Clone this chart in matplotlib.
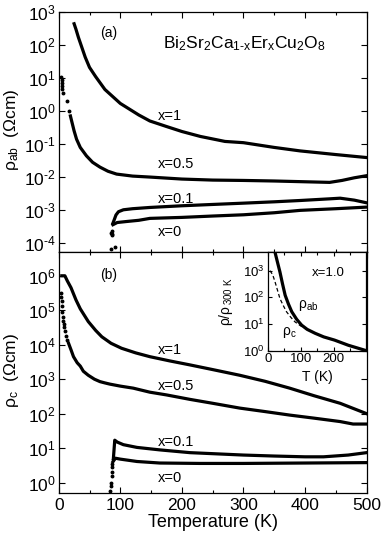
import matplotlib
matplotlib.use('Agg')
import matplotlib.pyplot as plt
from matplotlib.ticker import MultipleLocator, NullLocator, FixedLocator, FuncFormatter
import numpy as np

plt.rcParams['font.family'] = ['Liberation Sans', 'DejaVu Sans']
plt.rcParams['mathtext.fontset'] = 'custom'
plt.rcParams['mathtext.rm'] = 'Liberation Sans'
plt.rcParams['mathtext.it'] = 'Liberation Sans:italic'
plt.rcParams['mathtext.bf'] = 'Liberation Sans:bold'
plt.rcParams['mathtext.sf'] = 'Liberation Sans'

# ---- (a) in-plane resistivity rho_ab (Ohm cm) ----
ab_x1_T = [25, 28, 32, 37, 43, 50, 60, 75, 100, 130, 148, 175, 200, 230, 270, 300, 350, 392, 450, 500]
ab_x1 = [440, 300, 170, 91, 43, 21, 11, 4.5, 1.7, 0.76, 0.50, 0.34, 0.24, 0.17, 0.12, 0.11, 0.079, 0.062, 0.048, 0.039]

ab_x05_dot_T = [4, 5, 5, 6, 6, 7, 13, 17]
ab_x05_dot = [11, 8.9, 7.1, 5.6, 4.5, 3.5, 2.0, 1.0]
ab_x05_T = [19, 21, 25, 29, 35, 45, 55, 67, 80, 94, 120, 148, 200, 250, 300, 350, 400, 440, 460, 480, 500]
ab_x05 = [0.71, 0.5, 0.25, 0.14, 0.079, 0.044, 0.028, 0.020, 0.015, 0.0123, 0.0107, 0.010, 0.0087,
          0.0081, 0.0079, 0.0076, 0.0072, 0.0069, 0.0079, 0.0095, 0.011]

ab_x01_dot_T = [86, 86.5]
ab_x01_dot = [1.9e-4, 2.4e-4]
ab_x01_T = [88, 90, 93, 97, 105, 120, 148, 200, 250, 300, 350, 392, 440, 457, 480, 500]
ab_x01 = [4.0e-4, 5.0e-4, 7.1e-4, 8.9e-4, 1.02e-3, 1.10e-3, 1.20e-3, 1.35e-3, 1.48e-3, 1.62e-3,
          1.78e-3, 1.95e-3, 2.19e-3, 2.29e-3, 2.0e-3, 1.66e-3]

ab_x0_dot_T = [85.5, 87, 85.5, 91.5]
ab_x0_dot = [2.0e-4, 1.8e-4, 6.8e-5, 7.6e-5]
ab_x0_T = [88, 95, 110, 130, 148, 200, 250, 300, 350, 392, 450, 500]
ab_x0 = [3.6e-4, 4.2e-4, 4.5e-4, 4.9e-4, 5.6e-4, 6.0e-4, 6.6e-4, 7.2e-4, 8.3e-4, 9.8e-4, 1.10e-3, 1.23e-3]

# ---- (b) out-of-plane resistivity rho_c (Ohm cm) ----
c_x1_T = [5, 10, 14, 20, 28, 35, 48, 60, 70, 85, 102, 125, 148, 180, 213, 250, 294, 335, 375, 415, 457, 500]
c_x1 = [1.0e6, 1.0e6, 7.1e5, 4.5e5, 2.0e5, 1.1e5, 4.7e4, 2.6e4, 1.7e4, 1.1e4, 7.9e3, 5.8e3, 4.5e3,
        3.4e3, 2.6e3, 1.9e3, 1.3e3, 870, 550, 330, 200, 100]

c_x05_dot_T = [4, 4.5, 5, 5.5, 6, 6.5, 7, 8, 9, 10, 12, 14]
c_x05_dot = [3.2e5, 2.5e5, 1.8e5, 1.3e5, 8.9e4, 6.3e4, 5.0e4, 4.0e4, 3.2e4, 2.5e4, 1.8e4, 1.4e4]
c_x05_T = [16, 20, 24, 30, 35, 40, 48, 58, 67, 75, 83, 100, 121, 148, 175, 213, 250, 294, 335, 375,
           415, 457, 478, 500]
c_x05 = [1.1e4, 7.1e3, 4.5e3, 3.0e3, 2.4e3, 1.7e3, 1.3e3, 1.0e3, 850, 780, 720, 630, 550, 420, 350,
         260, 200, 145, 115, 91, 74, 59, 50, 50]

c_x01_dot_T = [84, 85, 86, 87, 88]
c_x01_dot = [0.56, 1.0, 1.6, 2.8, 5.0]
c_x01_T = [89, 91, 95, 105, 127, 164, 213, 300, 350, 400, 430, 470, 500]
c_x01 = [5.6, 17, 15, 12.6, 10.5, 8.9, 7.4, 6.3, 5.9, 5.6, 5.6, 6.3, 7.4]

c_x0_dot_T = [85, 86, 87]
c_x0_dot = [0.8, 2.0, 3.5]
c_x0_T = [88, 92, 100, 127, 164, 229, 300, 400, 500]
c_x0 = [4.0, 5.1, 4.8, 4.1, 3.7, 3.6, 3.6, 3.7, 3.8]

# ---- inset: x=1.0 normalised rho / rho(300 K) ----
ins_ab_T = [22, 30, 37, 45, 53, 63, 73, 88, 103, 120, 144, 170, 203, 245, 300]
ins_ab = [5000, 2000, 910, 320, 120, 56, 29, 15, 9.1, 6.3, 4.5, 3.3, 2.5, 1.6, 1.0]
ins_c_T = [7, 15, 22, 30, 37, 47, 57, 70, 83, 98, 113, 130, 145]
ins_c = [1000, 710, 390, 180, 91, 50, 29, 18, 12, 8.9, 6.9, 5.5, 4.7]

ab_decades = [1e-4, 1e-3, 1e-2, 1e-1, 1e0, 1e1, 1e2, 1e3]
c_decades = [1e0, 1e1, 1e2, 1e3, 1e4, 1e5, 1e6]
ins_decades = [1e0, 1e1, 1e2, 1e3]


def pow10(v, pos):
    e = int(round(np.log10(v)))
    if e < 0:
        return r'$\mathdefault{10^{\text{-}%d}}$' % (-e)
    return r'$\mathdefault{10^{%d}}$' % e


lw = 2.3
fig = plt.figure(figsize=(3.82, 5.38), dpi=100)
ax1 = fig.add_axes([0.1537, 0.5316, 0.806, 0.4461])
ax2 = fig.add_axes([0.1537, 0.0831, 0.806, 0.4485])


def style(ax, ymin, ymax, decades):
    ax.set_yscale('log')
    ax.set_xlim(0, 500)
    ax.set_ylim(ymin, ymax)
    ax.xaxis.set_major_locator(MultipleLocator(100))
    ax.xaxis.set_minor_locator(MultipleLocator(50))
    ax.yaxis.set_major_locator(FixedLocator(decades))
    ax.yaxis.set_minor_locator(NullLocator())
    ax.yaxis.set_major_formatter(FuncFormatter(pow10))
    ax.tick_params(which='both', direction='in', top=True, right=True, labelsize=12.5)
    ax.tick_params(which='major', length=4, width=0.8)
    ax.tick_params(which='minor', length=2.5, width=0.8)
    ax.tick_params(axis='y', pad=2)
    for s in ax.spines.values():
        s.set_linewidth(0.9)


style(ax1, 10 ** -4.27, 1e3, ab_decades)
style(ax2, 10 ** -0.31, 10 ** 6.69, c_decades)
ax1.tick_params(labelbottom=False)

ax1.plot(ab_x1_T, ab_x1, 'k-', lw=lw)
ax1.plot(ab_x05_dot_T, ab_x05_dot, 'ko', ms=1.8, ls='none')
ax1.plot(ab_x05_T, ab_x05, 'k-', lw=lw)
ax1.plot(ab_x01_dot_T, ab_x01_dot, 'ko', ms=1.8, ls='none')
ax1.plot(ab_x01_T, ab_x01, 'k-', lw=lw)
ax1.plot(ab_x0_dot_T, ab_x0_dot, 'ko', ms=1.8, ls='none')
ax1.plot(ab_x0_T, ab_x0, 'k-', lw=lw)

ax2.plot(c_x1_T, c_x1, 'k-', lw=lw)
ax2.plot(c_x05_dot_T, c_x05_dot, 'ko', ms=1.8, ls='none')
ax2.plot(c_x05_T, c_x05, 'k-', lw=lw)
ax2.plot(c_x01_dot_T, c_x01_dot, 'ko', ms=1.8, ls='none')
ax2.plot(c_x01_T, c_x01, 'k-', lw=lw)
ax2.plot(c_x0_dot_T, c_x0_dot, 'ko', ms=1.8, ls='none')
ax2.plot(c_x0_T, c_x0, 'k-', lw=lw)

fs = 10.5
for ax, labs in ((ax1, [('x=1', 0.69), ('x=0.5', 0.0245), ('x=0.1', 2.2e-3), ('x=0', 2.2e-4)]),
                 (ax2, [('x=1', 7.1e3), ('x=0.5', 630), ('x=0.1', 15), ('x=0', 1.4)])):
    for s, yv in labs:
        ax.text(161, yv, s, fontsize=fs, ha='left', va='center')

ax1.text(0.134, 0.912, '(a)', transform=ax1.transAxes, fontsize=10, ha='left', va='center')
ax2.text(0.134, 0.905, '(b)', transform=ax2.transAxes, fontsize=10, ha='left', va='center')
ax1.text(0.339, 0.867, r'Bi$_2$Sr$_2$Ca$_{\mathrm{1\text{-}x}}$Er$_{\mathrm{x}}$Cu$_2$O$_8$',
         transform=ax1.transAxes, fontsize=12.5, ha='left', va='center')

ax1.set_ylabel(r'$\mathrm{\rho_{ab}}$  ($\Omega$cm)', fontsize=12.5)
ax2.set_ylabel(r'$\mathrm{\rho_c}$  ($\Omega$cm)', fontsize=12.5)
ax1.yaxis.set_label_coords(-0.122, 0.51)
ax2.yaxis.set_label_coords(-0.122, 0.51)
ax2.set_xlabel('Temperature (K)', fontsize=13)
ax2.xaxis.set_label_coords(0.5, -0.085)

# inset
axi = fig.add_axes([0.7008, 0.3481, 0.2586, 0.1835])
axi.set_facecolor('white')
axi.set_yscale('log')
axi.set_xlim(0, 300)
axi.set_ylim(1, 10 ** 3.7)
axi.xaxis.set_major_locator(FixedLocator([0, 100, 200]))
axi.xaxis.set_minor_locator(FixedLocator([50, 150, 250]))
axi.yaxis.set_major_locator(FixedLocator(ins_decades))
axi.yaxis.set_minor_locator(NullLocator())
axi.yaxis.set_major_formatter(FuncFormatter(pow10))
axi.tick_params(which='both', direction='in', top=True, right=True, labelsize=9.5, pad=2)
axi.tick_params(which='major', length=3, width=0.8)
axi.tick_params(which='minor', length=2, width=0.8)
for s in axi.spines.values():
    s.set_linewidth(0.9)
axi.plot(ins_c_T, ins_c, 'k--', lw=0.9, dashes=(3, 2))
axi.plot(ins_ab_T, ins_ab, 'k-', lw=lw)
axi.text(0.45, 0.787, 'x=1.0', transform=axi.transAxes, fontsize=9.5, ha='left', va='center')
axi.text(0.31, 0.463, r'$\mathrm{\rho_{ab}}$', transform=axi.transAxes, fontsize=10, ha='left', va='center')
axi.text(0.145, 0.18, r'$\mathrm{\rho_c}$', transform=axi.transAxes, fontsize=10, ha='left', va='center')
axi.set_ylabel(r'$\mathrm{\rho/\rho_{\,300\ K}}$', fontsize=10)
axi.yaxis.set_label_coords(-0.33, 0.5)
axi.set_xlabel('T (K)', fontsize=10)
axi.xaxis.set_label_coords(0.5, -0.195)

fig.savefig('out.png', dpi=100)
